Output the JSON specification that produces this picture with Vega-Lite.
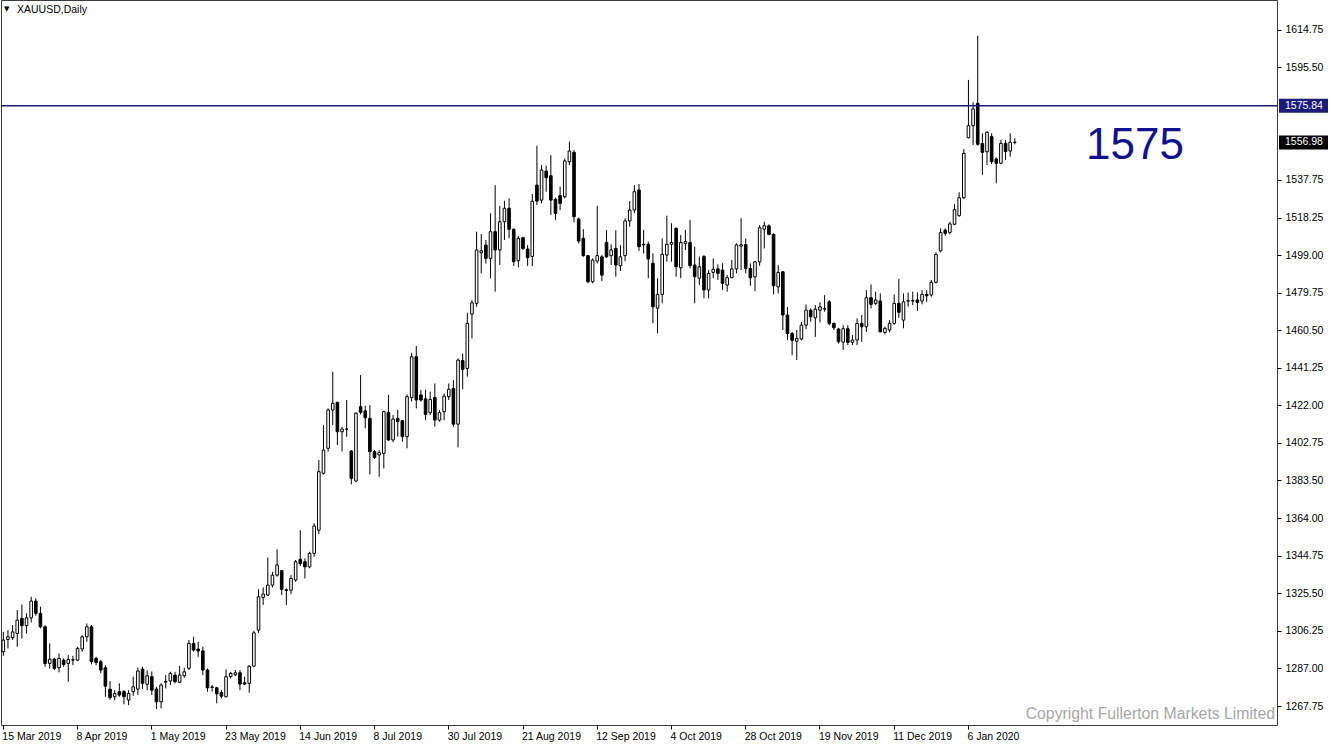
{
  "$schema": "https://vega.github.io/schema/vega-lite/v6.json",
  "width": 1276,
  "height": 725,
  "padding": 0,
  "background": "white",
  "config": {
    "view": {"stroke": "#3c3c3c", "strokeWidth": 1},
    "font": "Liberation Sans"
  },
  "data": {
    "values": [
      {"d":"2019-03-15","o":1295.6,"h":1305.8,"l":1293.5,"c":1301.6},
      {"d":"2019-03-18","o":1301.9,"h":1306.7,"l":1297.3,"c":1303.3},
      {"d":"2019-03-19","o":1302.8,"h":1309.3,"l":1301.6,"c":1305.8},
      {"d":"2019-03-20","o":1305.0,"h":1317.0,"l":1298.1,"c":1311.8},
      {"d":"2019-03-21","o":1312.7,"h":1319.9,"l":1302.4,"c":1309.0},
      {"d":"2019-03-22","o":1309.0,"h":1315.3,"l":1305.0,"c":1313.0},
      {"d":"2019-03-25","o":1313.0,"h":1323.8,"l":1310.6,"c":1321.6},
      {"d":"2019-03-26","o":1321.6,"h":1323.0,"l":1314.1,"c":1315.3},
      {"d":"2019-03-27","o":1315.3,"h":1318.7,"l":1307.6,"c":1308.4},
      {"d":"2019-03-28","o":1308.4,"h":1309.3,"l":1287.9,"c":1289.6},
      {"d":"2019-03-29","o":1289.6,"h":1299.9,"l":1287.0,"c":1291.8},
      {"d":"2019-04-01","o":1291.8,"h":1292.5,"l":1286.2,"c":1287.0},
      {"d":"2019-04-02","o":1287.4,"h":1294.7,"l":1285.0,"c":1292.2},
      {"d":"2019-04-03","o":1291.3,"h":1292.2,"l":1287.9,"c":1289.1},
      {"d":"2019-04-04","o":1289.6,"h":1293.9,"l":1280.2,"c":1291.6},
      {"d":"2019-04-05","o":1291.3,"h":1293.5,"l":1288.7,"c":1291.5},
      {"d":"2019-04-08","o":1291.3,"h":1298.1,"l":1290.8,"c":1297.3},
      {"d":"2019-04-09","o":1297.0,"h":1304.1,"l":1295.6,"c":1303.3},
      {"d":"2019-04-10","o":1303.3,"h":1310.1,"l":1300.7,"c":1308.4},
      {"d":"2019-04-11","o":1308.4,"h":1309.3,"l":1289.1,"c":1290.5},
      {"d":"2019-04-12","o":1292.2,"h":1293.0,"l":1288.7,"c":1290.1},
      {"d":"2019-04-15","o":1290.5,"h":1291.3,"l":1284.5,"c":1286.2},
      {"d":"2019-04-16","o":1287.4,"h":1288.7,"l":1272.5,"c":1277.9},
      {"d":"2019-04-17","o":1276.4,"h":1280.5,"l":1271.0,"c":1272.0},
      {"d":"2019-04-18","o":1272.5,"h":1275.9,"l":1270.8,"c":1274.1},
      {"d":"2019-04-22","o":1275.1,"h":1279.4,"l":1272.5,"c":1273.4},
      {"d":"2019-04-23","o":1275.1,"h":1275.9,"l":1268.6,"c":1272.5},
      {"d":"2019-04-24","o":1270.8,"h":1275.9,"l":1268.2,"c":1274.2},
      {"d":"2019-04-25","o":1275.1,"h":1282.8,"l":1273.0,"c":1277.6},
      {"d":"2019-04-26","o":1276.4,"h":1287.4,"l":1273.4,"c":1285.7},
      {"d":"2019-04-29","o":1286.7,"h":1287.9,"l":1276.4,"c":1279.4},
      {"d":"2019-04-30","o":1278.9,"h":1286.0,"l":1275.9,"c":1283.3},
      {"d":"2019-05-01","o":1282.8,"h":1285.5,"l":1273.4,"c":1275.9},
      {"d":"2019-05-02","o":1276.4,"h":1277.6,"l":1266.2,"c":1269.9},
      {"d":"2019-05-03","o":1269.9,"h":1279.4,"l":1266.5,"c":1278.5},
      {"d":"2019-05-06","o":1280.0,"h":1283.6,"l":1276.8,"c":1280.4},
      {"d":"2019-05-07","o":1280.6,"h":1285.3,"l":1278.5,"c":1284.5},
      {"d":"2019-05-08","o":1283.6,"h":1285.3,"l":1279.4,"c":1280.2},
      {"d":"2019-05-09","o":1279.9,"h":1288.4,"l":1279.4,"c":1283.6},
      {"d":"2019-05-10","o":1283.3,"h":1287.4,"l":1282.3,"c":1285.3},
      {"d":"2019-05-13","o":1287.1,"h":1301.6,"l":1286.2,"c":1299.9},
      {"d":"2019-05-14","o":1299.9,"h":1303.3,"l":1295.6,"c":1296.5},
      {"d":"2019-05-15","o":1297.0,"h":1300.7,"l":1293.0,"c":1296.0},
      {"d":"2019-05-16","o":1296.0,"h":1298.2,"l":1283.6,"c":1286.2},
      {"d":"2019-05-17","o":1286.2,"h":1287.1,"l":1275.1,"c":1277.1},
      {"d":"2019-05-20","o":1277.5,"h":1278.5,"l":1275.1,"c":1277.3},
      {"d":"2019-05-21","o":1277.1,"h":1277.6,"l":1269.1,"c":1274.0},
      {"d":"2019-05-22","o":1274.7,"h":1275.9,"l":1271.6,"c":1272.8},
      {"d":"2019-05-23","o":1272.5,"h":1286.5,"l":1272.2,"c":1282.8},
      {"d":"2019-05-24","o":1282.8,"h":1285.3,"l":1281.9,"c":1284.5},
      {"d":"2019-05-27","o":1283.8,"h":1286.2,"l":1283.1,"c":1284.8},
      {"d":"2019-05-28","o":1284.8,"h":1286.2,"l":1275.9,"c":1279.0},
      {"d":"2019-05-29","o":1279.7,"h":1282.8,"l":1278.5,"c":1279.0},
      {"d":"2019-05-30","o":1279.4,"h":1288.7,"l":1274.6,"c":1288.2},
      {"d":"2019-05-31","o":1288.2,"h":1306.4,"l":1287.9,"c":1305.3},
      {"d":"2019-06-03","o":1306.7,"h":1327.6,"l":1305.3,"c":1323.8},
      {"d":"2019-06-04","o":1323.5,"h":1328.6,"l":1319.6,"c":1325.2},
      {"d":"2019-06-05","o":1324.7,"h":1344.0,"l":1324.2,"c":1329.8},
      {"d":"2019-06-06","o":1329.8,"h":1336.6,"l":1328.6,"c":1334.9},
      {"d":"2019-06-07","o":1334.9,"h":1348.1,"l":1334.1,"c":1340.1},
      {"d":"2019-06-10","o":1337.2,"h":1337.5,"l":1324.7,"c":1327.6},
      {"d":"2019-06-11","o":1327.4,"h":1328.1,"l":1319.6,"c":1327.0},
      {"d":"2019-06-12","o":1327.2,"h":1334.9,"l":1325.2,"c":1333.2},
      {"d":"2019-06-13","o":1332.4,"h":1342.7,"l":1331.5,"c":1341.8},
      {"d":"2019-06-14","o":1343.0,"h":1358.0,"l":1339.6,"c":1340.9},
      {"d":"2019-06-17","o":1341.8,"h":1343.5,"l":1333.2,"c":1339.2},
      {"d":"2019-06-18","o":1339.2,"h":1346.9,"l":1338.4,"c":1346.1},
      {"d":"2019-06-19","o":1346.1,"h":1361.5,"l":1344.4,"c":1360.1},
      {"d":"2019-06-20","o":1358.0,"h":1394.0,"l":1356.0,"c":1388.0},
      {"d":"2019-06-21","o":1387.2,"h":1412.0,"l":1386.6,"c":1399.1},
      {"d":"2019-06-24","o":1400.0,"h":1420.5,"l":1398.3,"c":1419.7},
      {"d":"2019-06-25","o":1419.7,"h":1439.3,"l":1412.0,"c":1423.1},
      {"d":"2019-06-26","o":1423.6,"h":1423.9,"l":1401.7,"c":1408.5},
      {"d":"2019-06-27","o":1408.5,"h":1411.1,"l":1398.3,"c":1409.9},
      {"d":"2019-06-28","o":1409.8,"h":1424.8,"l":1406.0,"c":1409.9},
      {"d":"2019-07-01","o":1398.6,"h":1399.1,"l":1381.5,"c":1384.6},
      {"d":"2019-07-02","o":1383.2,"h":1418.5,"l":1382.9,"c":1418.0},
      {"d":"2019-07-03","o":1421.4,"h":1437.6,"l":1417.4,"c":1418.5},
      {"d":"2019-07-04","o":1419.2,"h":1421.9,"l":1410.3,"c":1415.7},
      {"d":"2019-07-05","o":1415.4,"h":1422.2,"l":1386.6,"c":1398.3},
      {"d":"2019-07-08","o":1398.3,"h":1399.1,"l":1394.5,"c":1395.2},
      {"d":"2019-07-09","o":1396.6,"h":1399.1,"l":1385.4,"c":1397.8},
      {"d":"2019-07-10","o":1397.4,"h":1419.2,"l":1389.7,"c":1418.8},
      {"d":"2019-07-11","o":1418.5,"h":1427.4,"l":1403.8,"c":1404.3},
      {"d":"2019-07-12","o":1404.3,"h":1417.1,"l":1403.1,"c":1415.0},
      {"d":"2019-07-15","o":1415.4,"h":1419.7,"l":1406.0,"c":1413.7},
      {"d":"2019-07-16","o":1414.2,"h":1414.5,"l":1403.4,"c":1406.0},
      {"d":"2019-07-17","o":1406.0,"h":1427.7,"l":1400.0,"c":1426.5},
      {"d":"2019-07-18","o":1426.0,"h":1449.0,"l":1424.0,"c":1447.0},
      {"d":"2019-07-19","o":1447.0,"h":1452.5,"l":1420.5,"c":1424.8},
      {"d":"2019-07-22","o":1427.4,"h":1429.9,"l":1423.9,"c":1424.8},
      {"d":"2019-07-23","o":1425.4,"h":1430.1,"l":1414.5,"c":1417.4},
      {"d":"2019-07-24","o":1418.3,"h":1429.1,"l":1417.1,"c":1425.1},
      {"d":"2019-07-25","o":1426.1,"h":1433.3,"l":1411.1,"c":1414.5},
      {"d":"2019-07-26","o":1414.5,"h":1419.6,"l":1413.7,"c":1418.3},
      {"d":"2019-07-29","o":1418.8,"h":1428.2,"l":1414.5,"c":1426.8},
      {"d":"2019-07-30","o":1426.5,"h":1433.3,"l":1424.8,"c":1430.3},
      {"d":"2019-07-31","o":1430.8,"h":1435.0,"l":1411.1,"c":1412.4},
      {"d":"2019-08-01","o":1412.4,"h":1446.2,"l":1400.5,"c":1445.3},
      {"d":"2019-08-02","o":1445.0,"h":1448.7,"l":1430.3,"c":1440.5},
      {"d":"2019-08-05","o":1441.0,"h":1469.6,"l":1436.8,"c":1464.1},
      {"d":"2019-08-06","o":1468.9,"h":1476.1,"l":1456.4,"c":1474.7},
      {"d":"2019-08-07","o":1474.4,"h":1511.2,"l":1472.7,"c":1501.8},
      {"d":"2019-08-08","o":1500.4,"h":1510.0,"l":1489.8,"c":1501.4},
      {"d":"2019-08-09","o":1504.3,"h":1506.9,"l":1494.9,"c":1497.5},
      {"d":"2019-08-12","o":1497.5,"h":1520.6,"l":1487.2,"c":1511.2},
      {"d":"2019-08-13","o":1511.2,"h":1535.1,"l":1480.4,"c":1501.8},
      {"d":"2019-08-14","o":1501.8,"h":1524.4,"l":1494.1,"c":1516.3},
      {"d":"2019-08-15","o":1516.3,"h":1527.1,"l":1506.9,"c":1523.2},
      {"d":"2019-08-16","o":1523.2,"h":1528.3,"l":1507.8,"c":1512.4},
      {"d":"2019-08-19","o":1512.4,"h":1512.9,"l":1493.6,"c":1495.8},
      {"d":"2019-08-20","o":1496.3,"h":1508.9,"l":1492.9,"c":1507.8},
      {"d":"2019-08-21","o":1508.1,"h":1508.6,"l":1501.8,"c":1502.6},
      {"d":"2019-08-22","o":1502.3,"h":1504.3,"l":1493.6,"c":1497.9},
      {"d":"2019-08-23","o":1498.5,"h":1530.5,"l":1493.5,"c":1526.8},
      {"d":"2019-08-26","o":1535.1,"h":1555.3,"l":1524.9,"c":1526.9},
      {"d":"2019-08-27","o":1527.4,"h":1545.4,"l":1525.7,"c":1542.8},
      {"d":"2019-08-28","o":1542.3,"h":1545.1,"l":1531.7,"c":1538.9},
      {"d":"2019-08-29","o":1539.9,"h":1550.5,"l":1519.7,"c":1527.4},
      {"d":"2019-08-30","o":1527.8,"h":1528.6,"l":1517.2,"c":1520.6},
      {"d":"2019-09-02","o":1529.7,"h":1534.3,"l":1522.3,"c":1525.7},
      {"d":"2019-09-03","o":1529.1,"h":1548.8,"l":1528.3,"c":1547.5},
      {"d":"2019-09-04","o":1547.1,"h":1557.4,"l":1545.4,"c":1552.6},
      {"d":"2019-09-05","o":1551.9,"h":1553.1,"l":1516.0,"c":1518.9},
      {"d":"2019-09-06","o":1517.7,"h":1518.4,"l":1505.2,"c":1506.4},
      {"d":"2019-09-09","o":1507.8,"h":1512.5,"l":1498.3,"c":1498.9},
      {"d":"2019-09-10","o":1498.9,"h":1499.2,"l":1484.7,"c":1485.5},
      {"d":"2019-09-11","o":1485.5,"h":1497.5,"l":1484.7,"c":1496.6},
      {"d":"2019-09-12","o":1496.1,"h":1524.5,"l":1494.9,"c":1498.9},
      {"d":"2019-09-13","o":1498.3,"h":1499.2,"l":1485.9,"c":1488.9},
      {"d":"2019-09-16","o":1505.7,"h":1512.0,"l":1497.8,"c":1498.3},
      {"d":"2019-09-17","o":1498.9,"h":1504.7,"l":1494.1,"c":1501.8},
      {"d":"2019-09-18","o":1502.6,"h":1512.0,"l":1488.1,"c":1494.1},
      {"d":"2019-09-19","o":1493.7,"h":1504.3,"l":1491.0,"c":1498.3},
      {"d":"2019-09-20","o":1498.9,"h":1518.0,"l":1496.1,"c":1516.7},
      {"d":"2019-09-23","o":1516.7,"h":1526.9,"l":1513.7,"c":1522.3},
      {"d":"2019-09-24","o":1522.3,"h":1535.1,"l":1520.6,"c":1531.7},
      {"d":"2019-09-25","o":1532.6,"h":1535.6,"l":1501.3,"c":1503.5},
      {"d":"2019-09-26","o":1504.7,"h":1512.1,"l":1500.1,"c":1504.4},
      {"d":"2019-09-27","o":1504.7,"h":1506.1,"l":1487.3,"c":1497.2},
      {"d":"2019-09-30","o":1495.0,"h":1500.1,"l":1464.2,"c":1472.7},
      {"d":"2019-10-01","o":1471.9,"h":1487.3,"l":1459.0,"c":1479.0},
      {"d":"2019-10-02","o":1479.0,"h":1507.8,"l":1474.4,"c":1499.6},
      {"d":"2019-10-03","o":1499.2,"h":1519.4,"l":1495.8,"c":1504.7},
      {"d":"2019-10-04","o":1504.7,"h":1515.5,"l":1495.8,"c":1505.6},
      {"d":"2019-10-07","o":1512.9,"h":1513.3,"l":1488.1,"c":1493.2},
      {"d":"2019-10-08","o":1492.7,"h":1509.5,"l":1487.3,"c":1505.6},
      {"d":"2019-10-09","o":1505.2,"h":1512.1,"l":1501.8,"c":1506.1},
      {"d":"2019-10-10","o":1505.6,"h":1517.2,"l":1492.4,"c":1493.8},
      {"d":"2019-10-11","o":1494.1,"h":1503.5,"l":1474.4,"c":1488.1},
      {"d":"2019-10-14","o":1487.3,"h":1498.4,"l":1483.8,"c":1493.2},
      {"d":"2019-10-15","o":1498.4,"h":1499.2,"l":1477.0,"c":1481.3},
      {"d":"2019-10-16","o":1481.3,"h":1491.5,"l":1477.0,"c":1489.8},
      {"d":"2019-10-17","o":1490.3,"h":1497.5,"l":1487.3,"c":1491.9},
      {"d":"2019-10-18","o":1492.1,"h":1494.4,"l":1486.4,"c":1489.8},
      {"d":"2019-10-21","o":1491.5,"h":1495.0,"l":1481.3,"c":1484.7},
      {"d":"2019-10-22","o":1483.8,"h":1489.0,"l":1480.4,"c":1487.6},
      {"d":"2019-10-23","o":1487.6,"h":1496.7,"l":1487.3,"c":1492.1},
      {"d":"2019-10-24","o":1492.1,"h":1505.2,"l":1489.8,"c":1504.4},
      {"d":"2019-10-25","o":1503.8,"h":1518.1,"l":1491.5,"c":1504.5},
      {"d":"2019-10-28","o":1504.6,"h":1507.7,"l":1489.8,"c":1492.3},
      {"d":"2019-10-29","o":1492.3,"h":1494.9,"l":1483.4,"c":1487.5},
      {"d":"2019-10-30","o":1488.0,"h":1496.1,"l":1480.7,"c":1495.7},
      {"d":"2019-10-31","o":1495.7,"h":1514.6,"l":1493.7,"c":1513.2},
      {"d":"2019-11-01","o":1512.5,"h":1516.3,"l":1502.6,"c":1514.2},
      {"d":"2019-11-04","o":1514.2,"h":1514.9,"l":1509.4,"c":1509.8},
      {"d":"2019-11-05","o":1509.8,"h":1510.3,"l":1479.0,"c":1483.4},
      {"d":"2019-11-06","o":1482.9,"h":1494.0,"l":1479.5,"c":1490.3},
      {"d":"2019-11-07","o":1490.6,"h":1491.0,"l":1460.7,"c":1468.4},
      {"d":"2019-11-08","o":1468.4,"h":1472.6,"l":1455.5,"c":1458.9},
      {"d":"2019-11-11","o":1458.9,"h":1459.8,"l":1447.8,"c":1455.5},
      {"d":"2019-11-12","o":1455.0,"h":1460.7,"l":1445.3,"c":1456.4},
      {"d":"2019-11-13","o":1456.1,"h":1464.9,"l":1455.5,"c":1463.2},
      {"d":"2019-11-14","o":1463.2,"h":1473.8,"l":1461.2,"c":1470.9},
      {"d":"2019-11-15","o":1470.9,"h":1471.8,"l":1465.0,"c":1467.5},
      {"d":"2019-11-18","o":1467.0,"h":1473.5,"l":1457.2,"c":1471.4},
      {"d":"2019-11-19","o":1470.9,"h":1474.9,"l":1464.6,"c":1472.6},
      {"d":"2019-11-20","o":1471.6,"h":1478.6,"l":1470.1,"c":1471.5},
      {"d":"2019-11-21","o":1475.2,"h":1476.1,"l":1463.2,"c":1464.1},
      {"d":"2019-11-22","o":1464.1,"h":1464.6,"l":1460.7,"c":1461.9},
      {"d":"2019-11-25","o":1461.2,"h":1461.9,"l":1453.8,"c":1454.7},
      {"d":"2019-11-26","o":1454.5,"h":1463.2,"l":1450.5,"c":1461.4},
      {"d":"2019-11-27","o":1461.4,"h":1463.2,"l":1453.0,"c":1454.4},
      {"d":"2019-11-28","o":1454.4,"h":1458.1,"l":1453.0,"c":1455.6},
      {"d":"2019-11-29","o":1455.6,"h":1466.7,"l":1453.0,"c":1464.1},
      {"d":"2019-12-02","o":1464.1,"h":1468.4,"l":1454.7,"c":1462.4},
      {"d":"2019-12-03","o":1462.4,"h":1481.2,"l":1459.8,"c":1477.3},
      {"d":"2019-12-04","o":1477.3,"h":1484.1,"l":1471.8,"c":1473.9},
      {"d":"2019-12-05","o":1474.4,"h":1480.4,"l":1473.5,"c":1476.1},
      {"d":"2019-12-06","o":1475.6,"h":1479.5,"l":1459.5,"c":1459.8},
      {"d":"2019-12-09","o":1459.5,"h":1462.4,"l":1458.5,"c":1461.6},
      {"d":"2019-12-10","o":1460.7,"h":1465.8,"l":1459.5,"c":1464.1},
      {"d":"2019-12-11","o":1464.1,"h":1479.0,"l":1463.3,"c":1474.4},
      {"d":"2019-12-12","o":1474.4,"h":1486.9,"l":1467.0,"c":1469.8},
      {"d":"2019-12-13","o":1465.8,"h":1479.5,"l":1461.6,"c":1475.2},
      {"d":"2019-12-16","o":1475.6,"h":1480.0,"l":1472.7,"c":1475.7},
      {"d":"2019-12-17","o":1475.8,"h":1480.4,"l":1473.5,"c":1475.6},
      {"d":"2019-12-18","o":1476.1,"h":1480.0,"l":1470.5,"c":1474.9},
      {"d":"2019-12-19","o":1475.6,"h":1481.2,"l":1473.9,"c":1479.0},
      {"d":"2019-12-20","o":1479.0,"h":1481.2,"l":1475.2,"c":1478.3},
      {"d":"2019-12-23","o":1478.7,"h":1486.4,"l":1477.8,"c":1485.2},
      {"d":"2019-12-24","o":1485.2,"h":1500.6,"l":1484.7,"c":1499.5},
      {"d":"2019-12-26","o":1501.3,"h":1512.9,"l":1500.6,"c":1510.8},
      {"d":"2019-12-27","o":1512.0,"h":1512.9,"l":1509.1,"c":1510.3},
      {"d":"2019-12-30","o":1510.8,"h":1516.3,"l":1509.8,"c":1515.2},
      {"d":"2019-12-31","o":1515.0,"h":1525.5,"l":1514.5,"c":1522.5},
      {"d":"2020-01-02","o":1519.4,"h":1531.4,"l":1518.9,"c":1528.6},
      {"d":"2020-01-03","o":1528.6,"h":1553.6,"l":1527.9,"c":1551.4},
      {"d":"2020-01-06","o":1559.4,"h":1589.1,"l":1559.1,"c":1565.6},
      {"d":"2020-01-07","o":1565.6,"h":1577.6,"l":1555.7,"c":1574.2},
      {"d":"2020-01-08","o":1577.1,"h":1611.8,"l":1555.3,"c":1556.0},
      {"d":"2020-01-09","o":1556.5,"h":1561.7,"l":1540.3,"c":1551.9},
      {"d":"2020-01-10","o":1552.2,"h":1562.8,"l":1545.4,"c":1562.2},
      {"d":"2020-01-13","o":1560.0,"h":1561.7,"l":1545.8,"c":1547.1},
      {"d":"2020-01-14","o":1548.5,"h":1549.2,"l":1536.0,"c":1546.3},
      {"d":"2020-01-15","o":1546.3,"h":1558.3,"l":1545.8,"c":1556.5},
      {"d":"2020-01-16","o":1556.5,"h":1558.3,"l":1548.0,"c":1552.3},
      {"d":"2020-01-17","o":1552.6,"h":1561.7,"l":1549.7,"c":1557.1},
      {"d":"2020-01-20","o":1557.1,"h":1559.1,"l":1556.0,"c":1556.98}
    ]
  },
  "layer": [
    {
      "mark": {"type": "rule", "color": "#000000", "strokeWidth": 1},
      "encoding": {
        "x": {
          "field": "d", "type": "ordinal",
          "scale": {
            "type": "band", "paddingInner": 0, "paddingOuter": 0,
            "domain": {"unionWith": ["2020-01-21","2020-01-22","2020-01-23","2020-01-24","2020-01-27","2020-01-28","2020-01-29","2020-01-30","2020-01-31","2020-02-03","2020-02-04","2020-02-05","2020-02-06","2020-02-07","2020-02-10","2020-02-11","2020-02-12","2020-02-13","2020-02-14","2020-02-17","2020-02-18","2020-02-19","2020-02-20","2020-02-21","2020-02-24","2020-02-25","2020-02-26","2020-02-27","2020-02-28","2020-03-02","2020-03-03","2020-03-04","2020-03-05","2020-03-06","2020-03-09","2020-03-10","2020-03-11","2020-03-12","2020-03-13","2020-03-16","2020-03-17","2020-03-18","2020-03-19","2020-03-20","2020-03-23","2020-03-24","2020-03-25","2020-03-26","2020-03-27","2020-03-30","2020-03-31","2020-04-01","2020-04-02","2020-04-03","2020-04-06","2020-04-07"]}
          },
          "axis": {
            "title": null, "grid": false, "domain": false,
            "values": ["2019-03-15","2019-04-08","2019-05-01","2019-05-23","2019-06-14","2019-07-08","2019-07-30","2019-08-21","2019-09-12","2019-10-04","2019-10-28","2019-11-19","2019-12-11","2020-01-06"],
            "labelExpr": "utcFormat(toDate(datum.value), '%-d %b %Y')",
            "labelAngle": 0, "labelAlign": "left", "labelBaseline": "top",
            "labelPadding": 2, "labelOffset": -1, "tickSize": 4, "bandPosition": 0.5,
            "tickColor": "#000000",
            "labelFont": "Liberation Sans", "labelFontSize": 10.5, "labelColor": "#000000",
            "labelOverlap": false, "labelFlush": false
          }
        },
        "y": {
          "field": "l", "type": "quantitative",
          "scale": {"domain": [1258.0, 1630.1], "nice": false, "zero": false},
          "axis": {
            "orient": "right", "title": null, "grid": false, "domain": false,
            "values": [1267.75, 1287.0, 1306.25, 1325.5, 1344.75, 1364.0, 1383.5, 1402.75, 1422.0, 1441.25, 1460.5, 1479.75, 1499.0, 1518.25, 1537.75, 1595.5, 1614.75],
            "format": ".2f", "tickSize": 4, "labelPadding": 4,
            "tickColor": "#000000",
            "labelFont": "Liberation Sans", "labelFontSize": 10.5, "labelColor": "#000000",
            "labelBaseline": "middle", "labelOverlap": false, "labelFlush": false
          }
        },
        "y2": {"field": "h"}
      }
    },
    {
      "mark": {"type": "bar", "width": 2.6, "stroke": "#000000", "strokeWidth": 1},
      "encoding": {
        "x": {"field": "d", "type": "ordinal", "scale": {"type": "band"}},
        "y": {"field": "o", "type": "quantitative"},
        "y2": {"field": "c"},
        "fill": {"condition": {"test": "datum.c > datum.o", "value": "#ffffff"}, "value": "#000000"}
      }
    },
    {
      "data": {"values": [{"v": 1575.84}]},
      "mark": {"type": "rule", "color": "#1b1b7a", "strokeWidth": 1.5},
      "encoding": {"y": {"field": "v", "type": "quantitative"}}
    },
    {
      "data": {"values": [{"v": 1575.84, "t": "1575.84", "bg": "#1b1b7a"}, {"v": 1556.98, "t": "1556.98", "bg": "#000000"}]},
      "mark": {"type": "rect", "xOffset": 2, "x2Offset": 51, "yOffset": -7, "y2Offset": 7},
      "encoding": {
        "x": {"value": "width"},
        "x2": {"value": "width"},
        "y": {"field": "v", "type": "quantitative"},
        "y2": {"field": "v"},
        "fill": {"field": "bg", "type": "nominal", "scale": null}
      }
    },
    {
      "data": {"values": [{"v": 1575.84, "t": "1575.84"}, {"v": 1556.98, "t": "1556.98"}]},
      "mark": {"type": "text", "align": "left", "baseline": "middle", "dx": 8, "color": "#ffffff", "font": "Liberation Sans", "fontSize": 10.5},
      "encoding": {
        "x": {"value": "width"},
        "y": {"field": "v", "type": "quantitative"},
        "text": {"field": "t"}
      }
    },
    {
      "data": {"values": [{"v": 1555.0, "t": "1575"}]},
      "mark": {"type": "text", "align": "left", "baseline": "middle", "dx": -191, "color": "#10108c", "font": "Liberation Sans", "fontSize": 44},
      "encoding": {
        "x": {"value": "width"},
        "y": {"field": "v", "type": "quantitative"},
        "text": {"field": "t"}
      }
    },
    {
      "data": {"values": [{"t": "XAUUSD,Daily"}]},
      "mark": {"type": "text", "align": "left", "baseline": "middle", "x": 16, "y": 10, "color": "#000000", "font": "Liberation Sans", "fontSize": 10.5},
      "encoding": {"text": {"field": "t"}}
    },
    {
      "data": {"values": [{"t": "▼"}]},
      "mark": {"type": "text", "align": "left", "baseline": "middle", "x": 3, "y": 9, "color": "#000000", "font": "DejaVu Sans", "fontSize": 7},
      "encoding": {"text": {"field": "t"}}
    },
    {
      "data": {"values": [{"t": "Copyright Fullerton Markets Limited"}]},
      "mark": {"type": "text", "align": "right", "baseline": "middle", "x": 1274, "y": 714, "color": "#a6a6a6", "font": "Liberation Sans", "fontSize": 15.8},
      "encoding": {"text": {"field": "t"}}
    }
  ]
}
